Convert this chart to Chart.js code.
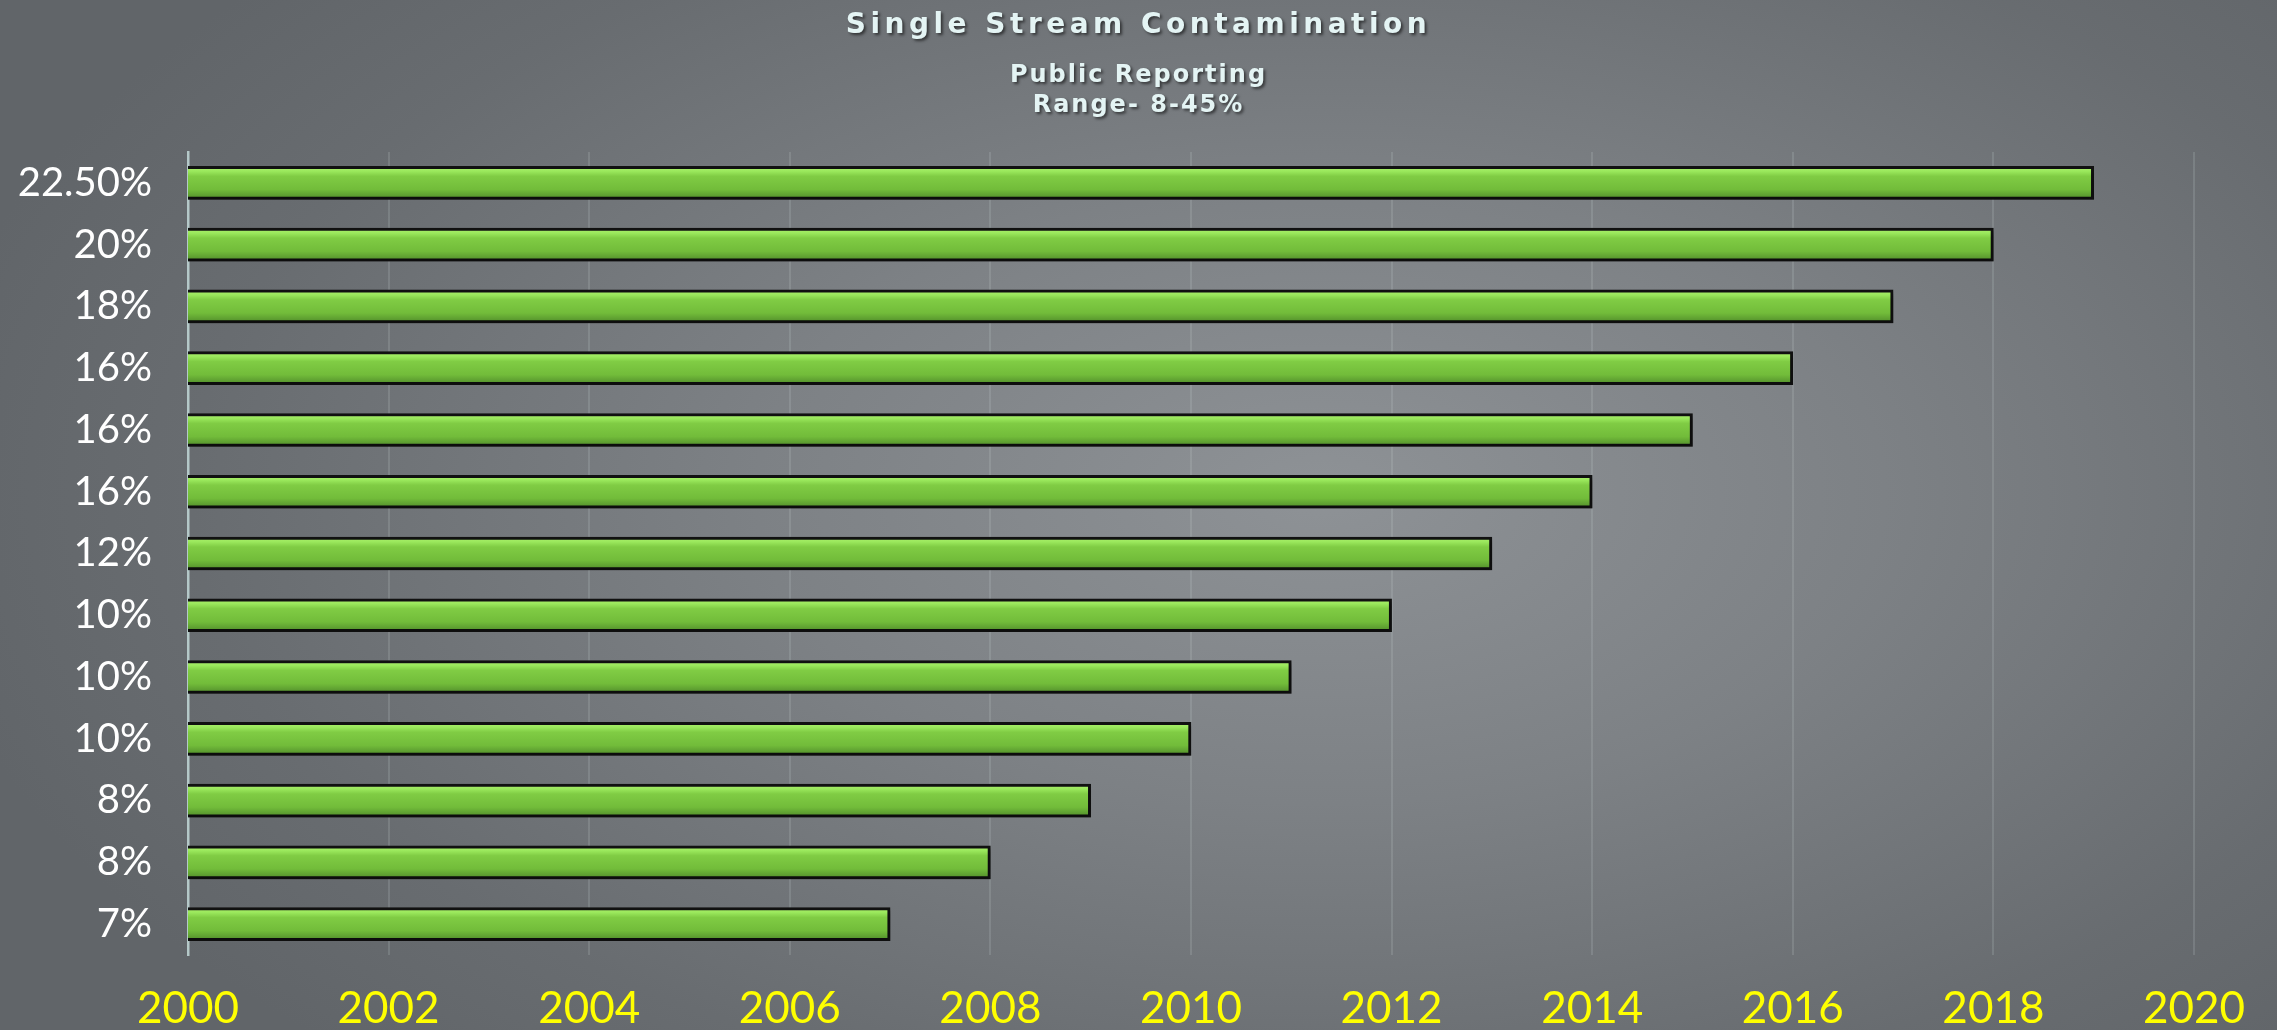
<!DOCTYPE html>
<html>
<head>
<meta charset="utf-8">
<script src="https://cdn.jsdelivr.net/npm/chart.js@4/dist/chart.umd.min.js"></script>
<style>
  html, body { margin: 0; padding: 0; }
  body {
    width: 2277px; height: 1030px; overflow: hidden;
    background: radial-gradient(ellipse 62% 75% at 58% 48%, #8e9296 0%, #7d8185 40%, #686c70 80%, #616569 100%);
  }
  #wrap { position: relative; width: 2277px; height: 1030px; }
</style>
</head>
<body>
<div id="wrap"><canvas id="c"></canvas></div>
<script>
// ---- data ----
const categories = ['22.50%', '20%', '18%', '16%', '16%', '16%', '12%', '10%', '10%', '10%', '8%', '8%', '7%'];
const yearValues = [2019, 2018, 2017, 2016, 2015, 2014, 2013, 2012, 2011, 2010, 2009, 2008, 2007];
const xTickLabels = ['2000', '2002', '2004', '2006', '2008', '2010', '2012', '2014', '2016', '2018', '2020'];
const titleText = 'Single Stream Contamination';
const subtitleLines = ['Public Reporting', 'Range- 8-45%'];

const BAR_T = 33;

function barFill(ctx) {
  const chart = ctx.chart;
  const ys = chart.scales && chart.scales.y;
  if (!chart.chartArea || !ys) return '#78c040';
  const yc = ys.getPixelForValue(ctx.dataIndex);
  const g = chart.ctx.createLinearGradient(0, yc - BAR_T / 2, 0, yc + BAR_T / 2);
  g.addColorStop(0.00, '#b0f070');
  g.addColorStop(0.15, '#9ae85c');
  g.addColorStop(0.30, '#80cc44');
  g.addColorStop(0.70, '#72bc3a');
  g.addColorStop(0.86, '#60a232');
  g.addColorStop(1.00, '#4e8a28');
  return g;
}

// soft drop shadow under the bars
const barShadow = {
  id: 'barShadow',
  beforeDatasetsDraw(chart) {
    const ctx = chart.ctx;
    ctx.save();
    ctx.shadowColor = 'rgba(0,0,0,0.35)';
    ctx.shadowOffsetX = 2;
    ctx.shadowOffsetY = 3;
    ctx.shadowBlur = 5;
  },
  afterDatasetsDraw(chart) {
    chart.ctx.restore();
  }
};

// Title block with letter spacing and soft shadow (text from titleText / subtitleLines)
const titleBlock = {
  id: 'titleBlock',
  afterDraw(chart) {
    const ctx = chart.ctx;
    const cx = chart.width / 2;
    ctx.save();
    ctx.textAlign = 'center';
    ctx.textBaseline = 'alphabetic';
    ctx.fillStyle = '#e4f4f4';
    ctx.shadowColor = 'rgba(0,0,0,0.55)';
    ctx.shadowOffsetX = 2;
    ctx.shadowOffsetY = 2;
    ctx.shadowBlur = 3;
    ctx.font = 'bold 28px "DejaVu Sans"';
    if ('letterSpacing' in ctx) ctx.letterSpacing = '4.5px';
    ctx.fillText(titleText, cx, 33);
    ctx.font = 'bold 24px "DejaVu Sans"';
    if ('letterSpacing' in ctx) ctx.letterSpacing = '2px';
    subtitleLines.forEach((line, i) => ctx.fillText(line, cx, 82 + i * 30));
    ctx.restore();
  }
};

new Chart(document.getElementById('c'), {
  type: 'bar',
  data: {
    labels: categories,
    datasets: [{
      data: yearValues,
      backgroundColor: barFill,
      borderColor: '#111111',
      borderWidth: 3,
      borderSkipped: false,
      barThickness: BAR_T
    }]
  },
  options: {
    indexAxis: 'y',
    responsive: true,
    maintainAspectRatio: false,
    animation: false,
    layout: { padding: { left: 0, right: 83, top: 152, bottom: 0 } },
    plugins: {
      legend: { display: false },
      tooltip: { enabled: false },
      title: { display: false },
      subtitle: { display: false }
    },
    scales: {
      x: {
        type: 'linear',
        min: 2000,
        max: 2020,
        grid: { display: true, color: 'rgba(200,210,210,0.18)', lineWidth: 2, drawTicks: false },
        border: { display: false },
        ticks: {
          stepSize: 2,
          color: '#ffff00',
          padding: 27,
          font: { family: 'Lato', size: 44 },
          callback: function (v) {
            const i = Math.round((v - 2000) / 2);
            return xTickLabels[i] !== undefined ? xTickLabels[i] : '';
          }
        },
        afterFit: function (s) { s.height = 75; }
      },
      y: {
        grid: { display: false, drawTicks: false },
        border: { display: true, color: '#b4c8c8', width: 2.5 },
        ticks: {
          color: '#ffffff',
          padding: 36,
          font: { family: 'Lato', size: 40 }
        },
        afterFit: function (s) { s.width = 188; }
      }
    }
  },
  plugins: [barShadow, titleBlock]
});
</script>
</body>
</html>
